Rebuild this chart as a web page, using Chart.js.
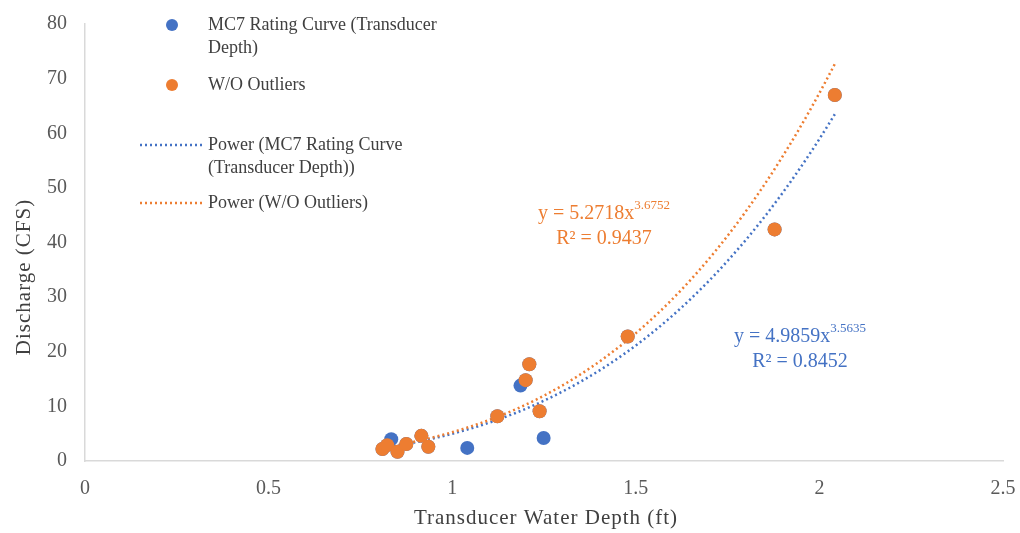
<!DOCTYPE html>
<html>
<head>
<meta charset="utf-8">
<script src="https://cdn.jsdelivr.net/npm/chart.js@4.4.1/dist/chart.umd.min.js"></script>
<style>
body { margin: 0; background: #fff; }
#wrap { width: 1020px; height: 533px; }
</style>
</head>
<body>
<div id="wrap"><canvas id="chart"></canvas></div>
<script>
// points kept in the "W/O Outliers" fit
const keptDepth = [0.810, 0.823, 0.851, 0.875, 0.916, 0.935, 1.123, 1.200, 1.210, 1.238, 1.478, 1.878, 2.042];
const keptFlow  = [2.2, 2.9, 1.7, 3.1, 4.6, 2.6, 8.2, 14.8, 17.7, 9.1, 22.8, 42.4, 67.0];
// outliers (only in the full MC7 series)
const outlierDepth = [0.834, 1.041, 1.186, 1.249];
const outlierFlow  = [4.0, 2.4, 13.8, 4.2];

// power trendline coefficients as printed on the chart
const fitAll  = { a: 4.9859, b: 3.5635, r2: '0.8452' };
const fitKept = { a: 5.2718, b: 3.6752, r2: '0.9437' };

const xTicks = [0, 0.5, 1, 1.5, 2, 2.5];
const yTicks = [0, 10, 20, 30, 40, 50, 60, 70, 80];

const xTitle = 'Transducer Water Depth (ft)';
const yTitle = 'Discharge (CFS)';
const legendNames = [
  ['MC7 Rating Curve (Transducer', 'Depth)'],
  ['W/O Outliers'],
  ['Power (MC7 Rating Curve', '(Transducer Depth))'],
  ['Power (W/O Outliers)']
];

const BLUE = '#4472C4';
const ORANGE = '#ED7D31';
const FONT = '"Liberation Serif", "Times New Roman", serif';

const allDepth = keptDepth.concat(outlierDepth);
const allFlow = keptFlow.concat(outlierFlow);
const toPts = (xs, ys) => xs.map((x, i) => ({ x: x, y: ys[i] }));

function trend(fit) {
  const lo = Math.min(...allDepth) - 0.01, hi = Math.max(...allDepth);
  const pts = [];
  for (let i = 0; i <= 60; i++) {
    const x = lo + (hi - lo) * i / 60;
    pts.push({ x: x, y: fit.a * Math.pow(x, fit.b) });
  }
  return pts;
}

function drawEq(ctx, cx, y, fit, color) {
  const base = 'y = ' + fit.a.toFixed(4) + 'x';
  const sup = fit.b.toFixed(4);
  ctx.fillStyle = color;
  ctx.font = '20px ' + FONT;
  const w1 = ctx.measureText(base).width;
  ctx.font = '13px ' + FONT;
  const w2 = ctx.measureText(sup).width;
  const x0 = cx - (w1 + w2) / 2;
  ctx.textAlign = 'left';
  ctx.textBaseline = 'middle';
  ctx.font = '20px ' + FONT;
  ctx.fillText(base, x0, y);
  ctx.font = '13px ' + FONT;
  ctx.fillText(sup, x0 + w1, y - 8);
  ctx.font = '20px ' + FONT;
  ctx.textAlign = 'center';
  ctx.fillText('R\u00B2 = ' + fit.r2, cx, y + 25);
}

const overlay = {
  id: 'overlay',
  afterDraw(chart) {
    const ctx = chart.ctx;
    ctx.save();
    // legend
    ctx.font = '18px ' + FONT;
    ctx.textBaseline = 'middle';
    ctx.textAlign = 'left';
    const rows = [25, 85, 145, 203];
    const cols = [BLUE, ORANGE, BLUE, ORANGE];
    rows.forEach((ry, i) => {
      if (i < 2) {
        ctx.fillStyle = cols[i];
        ctx.beginPath();
        ctx.arc(172, ry, 6, 0, Math.PI * 2);
        ctx.fill();
      } else {
        ctx.strokeStyle = cols[i];
        ctx.lineWidth = 2.5;
        ctx.setLineDash([2, 3]);
        ctx.beginPath();
        ctx.moveTo(140, ry);
        ctx.lineTo(202, ry);
        ctx.stroke();
        ctx.setLineDash([]);
      }
      ctx.fillStyle = '#404040';
      legendNames[i].forEach((t, j) => ctx.fillText(t, 208, ry + j * 23));
    });
    // axis titles (a bit spaced out like the original)
    ctx.fillStyle = '#404040';
    ctx.font = '21px ' + FONT;
    ctx.letterSpacing = '1px';
    ctx.textAlign = 'center';
    ctx.fillText(xTitle, 546, 518);
    ctx.translate(24, 277);
    ctx.rotate(-Math.PI / 2);
    ctx.fillText(yTitle, 0, 0);
    ctx.setTransform(1, 0, 0, 1, 0, 0);
    ctx.letterSpacing = '0px';
    // trendline equations
    drawEq(ctx, 604, 214, fitKept, ORANGE);
    drawEq(ctx, 800, 337, fitAll, BLUE);
    ctx.restore();
  }
};

new Chart(document.getElementById('chart'), {
  type: 'scatter',
  data: {
    datasets: [
      {
        label: 'Power (MC7 Rating Curve (Transducer Depth))',
        data: trend(fitAll), showLine: true, borderColor: BLUE,
        borderWidth: 2.5, borderDash: [2, 3], pointRadius: 0, tension: 0, order: 4
      },
      {
        label: 'Power (W/O Outliers)',
        data: trend(fitKept), showLine: true, borderColor: ORANGE,
        borderWidth: 2.5, borderDash: [2, 3], pointRadius: 0, tension: 0, order: 3
      },
      {
        label: 'MC7 Rating Curve (Transducer Depth)',
        data: toPts(allDepth, allFlow), backgroundColor: BLUE, borderWidth: 0,
        pointRadius: 7, order: 2
      },
      {
        label: 'W/O Outliers',
        data: toPts(keptDepth, keptFlow), backgroundColor: ORANGE, borderWidth: 0,
        pointRadius: 7, order: 1
      }
    ]
  },
  options: {
    responsive: true,
    maintainAspectRatio: false,
    animation: false,
    layout: { padding: { top: 24, right: 17, left: 10, bottom: 0 } },
    plugins: { legend: { display: false }, tooltip: { enabled: false } },
    scales: {
      x: {
        type: 'linear', min: 0, max: 2.5,
        afterBuildTicks: s => { s.ticks = xTicks.map(v => ({ value: v })); },
        afterFit: s => { s.height = 72; s.paddingRight = 0; s.paddingLeft = 0; },
        grid: { display: false, drawTicks: false },
        border: { color: '#d9d9d9', width: 1.5 },
        ticks: { color: '#595959', font: { family: FONT, size: 20 }, padding: 16, maxRotation: 0,
                 callback: v => String(v) },
        title: { display: false }
      },
      y: {
        min: 0, max: 80,
        afterBuildTicks: s => { s.ticks = yTicks.map(v => ({ value: v })); },
        afterFit: s => { s.width = 75; s.paddingTop = 0; s.paddingBottom = 0; },
        grid: { display: false, drawTicks: false },
        border: { color: '#d9d9d9', width: 1.5 },
        ticks: { color: '#595959', font: { family: FONT, size: 20 }, padding: 18 },
        title: { display: false }
      }
    }
  },
  plugins: [overlay]
});
</script>
</body>
</html>
